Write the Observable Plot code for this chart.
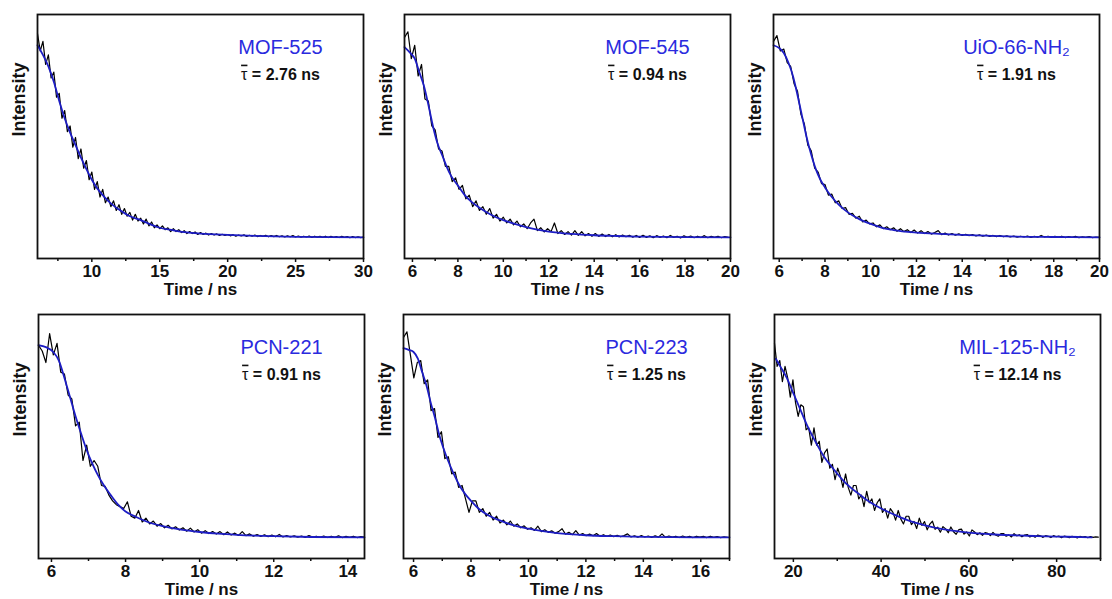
<!DOCTYPE html>
<html><head><meta charset="utf-8">
<script src="https://cdn.jsdelivr.net/npm/d3@7"></script>
<script src="https://cdn.jsdelivr.net/npm/@observablehq/plot@0.6"></script>
<style>
body{margin:0;background:#fff}
#fig{position:relative;width:1112px;height:599px;overflow:hidden;background:#fff}
.p{position:absolute}
svg{overflow:visible}
</style>
</head><body><div id="fig"></div>
<script>
// ---------- titles / lifetimes ----------
const titles = ["MOF-525", "MOF-545", "UiO-66-NH\u2082", "PCN-221", "PCN-223", "MIL-125-NH\u2082"];
const tauValues = ["2.76", "0.94", "1.91", "0.91", "1.25", "12.14"];

// ---------- x ticks ----------
const major1 = [10, 15, 20, 25, 30];           const minor1 = [7.5, 12.5, 17.5, 22.5, 27.5];
const major2 = [6, 8, 10, 12, 14, 16, 18, 20];  const minor2 = [7, 9, 11, 13, 15, 17, 19];
const major3 = [6, 8, 10, 12, 14, 16, 18, 20];  const minor3 = [7, 9, 11, 13, 15, 17, 19];
const major4 = [6, 8, 10, 12, 14];              const minor4 = [7, 9, 11, 13];
const major5 = [6, 8, 10, 12, 14, 16];          const minor5 = [7, 9, 11, 13, 15, 17];
const major6 = [20, 40, 60, 80];                const minor6 = [30, 50, 70, 90];

// ---------- measured decays (time channel start, channel width, normalised counts) ----------
const raw1Start = 6.0, raw1Step = 0.2;
const raw1 = [1.06,0.97,1.02,0.90,0.95,0.83,0.86,0.73,0.75,0.62,
0.66,0.55,0.58,0.47,0.52,0.41,0.46,0.36,0.40,0.30,
0.34,0.25,0.29,0.21,0.25,0.18,0.21,0.16,0.19,0.14,
0.17,0.12,0.15,0.11,0.13,0.09,0.12,0.085,0.10,0.07,
0.095,0.06,0.08,0.05,0.065,0.045,0.06,0.04,0.05,0.03,
0.045,0.03,0.04,0.025,0.035,0.02,0.03,0.02,0.028,0.015,
0.025,0.015,0.022,0.012,0.02,0.012,0.018,0.01,0.016,0.01,
0.015,
0.008,0.014,0.006,0.012,0.007,0.013,0.005,0.011,0.006,0.012,
0.004,0.010,0.005,0.011,0.003,0.009,0.004,0.010,0.003,0.008,
0.002,0.008,0.003,0.009,0.002,0.007,0.001,0.006,0.002,0.007,
0.000,0.006,0.001,0.005,0.000,0.006,-0.001,0.005,0.000,0.004,
-0.001,0.005,0.000,0.004,-0.002,0.004,-0.001,0.003,-0.001,0.002];

const raw2Start = 5.65, raw2Step = 0.15;
const raw2 = [1.04,1.07,0.93,1.00,0.84,0.90,0.72,0.71,0.58,0.56,
0.46,0.45,0.37,0.37,0.29,0.31,0.25,0.27,0.20,0.22,
0.16,0.19,0.14,0.16,0.12,0.15,0.10,0.12,0.085,0.105,
0.075,0.095,0.065,0.085,0.055,0.07,0.045,0.075,0.095,0.035,
0.05,0.028,0.045,0.03,0.075,0.02,0.035,0.015,0.03,0.012,
0.035,0.01,0.03,0.008,0.02,0.006,0.02,0.005,0.017,0.004,
0.015,0.003,0.014,0.002,0.012,0.003,0.011,0.001,0.01,0.0,
0.011,
0.0,0.008,-0.002,0.009,0.0,0.007,-0.002,0.01,0.0,0.006,
-0.003,0.008,0.0,0.007,-0.002,0.006,-0.001,0.009,-0.002,0.005,
0.0,0.006,-0.002,0.004,0.0];

const raw3Start = 5.75, raw3Step = 0.15;
const raw3 = [1.02,1.05,0.97,0.98,0.91,0.89,0.80,0.76,0.64,0.59,
0.48,0.45,0.36,0.34,0.28,0.275,0.22,0.225,0.18,0.19,
0.15,0.155,0.12,0.125,0.10,0.11,0.08,0.09,0.07,0.075,
0.055,0.065,0.045,0.055,0.04,0.05,0.032,0.045,0.03,0.04,
0.025,0.038,0.022,0.035,0.02,0.03,0.017,0.025,0.035,0.014,
0.022,0.012,0.02,0.011,0.018,0.01,0.016,0.009,0.015,0.007,
0.013,0.006,0.012,0.005,0.01,0.004,0.01,0.003,0.008,0.002,
0.007,0.001,0.006,0.002,0.007,0.0,0.005,0.001,0.01,0.002,
0.006,0.0,0.005,0.001,0.006,-0.001,0.004,0.0,0.005,-0.001,
0.003,0.0,0.004,-0.001,0.002,0.0];

const raw4Start = 5.65, raw4Step = 0.1;
const raw4 = [1.0,0.97,0.91,1.06,0.95,1.01,0.86,0.85,0.74,0.72,
0.58,0.60,0.40,0.48,0.37,0.40,0.37,0.27,0.265,0.22,
0.19,0.17,0.16,0.15,0.185,0.11,0.10,0.14,0.08,0.10,
0.07,0.085,0.058,0.072,0.05,0.063,0.044,0.055,0.038,0.05,
0.032,0.048,0.028,0.04,0.022,0.035,0.02,0.03,0.017,0.03,
0.014,0.028,0.012,0.022,0.01,0.03,0.009,0.018,0.006,0.015,
0.005,0.013,0.004,0.012,0.003,0.015,0.002,0.009,
0.002,0.008,0.001,0.007,0.0,0.009,0.001,0.006,0.0,0.007,
-0.001,0.006,0.0,0.008,-0.001,0.005,0.0,0.006,-0.001,0.004,0.001];

const raw5Start = 5.65, raw5Step = 0.12;
const raw5 = [1.04,1.07,0.95,0.83,0.91,0.92,0.80,0.82,0.66,0.67,
0.52,0.55,0.41,0.42,0.33,0.34,0.26,0.27,0.20,0.13,
0.19,0.19,0.13,0.15,0.11,0.13,0.09,0.11,0.075,0.09,
0.065,0.085,0.058,0.07,0.05,0.06,0.042,0.05,0.036,0.058,
0.03,0.04,0.026,0.034,0.022,0.03,0.045,0.017,0.026,0.014,
0.035,0.012,0.02,0.009,0.017,0.008,0.02,0.006,0.014,0.005,
0.012,0.004,
0.011,0.003,0.009,0.018,0.002,0.008,0.001,0.009,0.002,0.007,
0.0,0.008,0.001,0.018,0.0,0.007,0.001,0.006,-0.001,0.007,
0.0,0.005,-0.001,0.006,0.001,0.005,-0.001,0.006,0.0,0.004,
-0.001,0.003,0.0];

const raw6Start = 15.7, raw6Step = 0.6;
const raw6 = [1.01,0.89,0.92,0.81,0.89,0.83,0.73,0.82,0.70,0.63,
0.69,0.68,0.56,0.57,0.48,0.57,0.48,0.50,0.39,0.44,
0.46,0.36,0.38,0.30,0.36,0.32,0.26,0.33,0.26,0.22,
0.27,0.27,0.20,0.22,0.16,0.24,0.18,0.20,0.14,0.18,
0.20,0.13,0.15,0.10,0.15,0.13,0.09,0.14,0.095,0.07,
0.11,0.11,0.066,0.083,0.046,0.10,0.062,0.082,0.039,0.069,
0.084,0.042,0.053,0.027,0.056,0.044,0.024,0.054,0.029,0.016,
0.04,0.043,0.017,0.028,0.007,0.039,
0.028,0.014,0.024,0.011,0.025,0.021,0.009,0.026,0.012,0.006,
0.019,0.02,0.006,0.013,0.002,0.019,0.008,0.014,0.003,0.012,
0.015,0.002,0.009,0.001,0.012,0.008,0.0,0.009,0.006,-0.001,
0.009,0.003,0.007,-0.002,0.006,0.004,-0.002,0.005,0.003,-0.003,
0.005,0.001,0.004,-0.002,0.004,0.0,0.003,0.001];

// ---------- fitted curves (time, normalised intensity) ----------
const fit1T = [6.0,6.4,6.8,7.2,7.6,8.0,8.4,8.8,9.2,9.6,10.0,10.4,10.8,11.2,11.6,12.0,12.8,13.6,14.4,15.0,16,17,18,20,22,25,30];
const fit1V = [1.00,0.95,0.89,0.81,0.71,0.62,0.545,0.48,0.415,0.355,0.30,0.255,0.22,0.19,0.165,0.145,0.11,0.09,0.065,0.05,0.037,0.026,0.02,0.013,0.008,0.003,0.0];
const fit2T = [5.65,5.9,6.1,6.3,6.5,6.7,6.9,7.1,7.3,7.5,7.7,8.0,8.3,8.6,9.0,9.5,10.0,10.5,11.0,11.5,12.0,13,14,15,16,18,20];
const fit2V = [0.99,0.96,0.93,0.86,0.79,0.69,0.58,0.49,0.43,0.37,0.32,0.27,0.22,0.185,0.15,0.115,0.09,0.07,0.053,0.04,0.03,0.018,0.011,0.007,0.004,0.001,0.0];
const fit3T = [5.75,6.0,6.2,6.4,6.6,6.8,7.0,7.2,7.4,7.6,7.8,8.0,8.3,8.6,9.0,9.5,10.0,10.5,11,12,13,14,15,16,18,20];
const fit3V = [1.0,0.985,0.96,0.91,0.84,0.74,0.63,0.52,0.43,0.355,0.30,0.26,0.21,0.17,0.13,0.095,0.07,0.05,0.038,0.025,0.018,0.013,0.009,0.005,0.002,0.0];
const fit4T = [5.65,5.85,6.05,6.2,6.35,6.5,6.65,6.8,6.95,7.1,7.25,7.4,7.6,7.8,8.0,8.3,8.6,9.0,9.5,10.0,10.5,11.0,12.0,13.0,14.45];
const fit4V = [1.0,0.99,0.965,0.92,0.83,0.73,0.63,0.54,0.455,0.385,0.325,0.275,0.22,0.17,0.135,0.105,0.08,0.058,0.04,0.028,0.019,0.013,0.006,0.002,0.0];
const fit5T = [5.65,5.85,6.0,6.15,6.3,6.45,6.6,6.75,6.9,7.05,7.2,7.4,7.6,7.8,8.0,8.3,8.6,9.0,9.5,10.0,10.5,11.0,12.0,13.0,14.0,15.0,17.0];
const fit5V = [0.985,0.975,0.965,0.93,0.86,0.79,0.70,0.62,0.53,0.46,0.40,0.33,0.27,0.225,0.19,0.145,0.115,0.088,0.062,0.045,0.032,0.022,0.011,0.006,0.003,0.001,0.0];
const fit6T = [16.0,17,18.5,20,21.5,23,25,27,29,31,33,35,37,40,43,46,50,54,58,62,66,70,75,80,85,88];
const fit6V = [0.93,0.89,0.83,0.75,0.67,0.59,0.50,0.42,0.36,0.305,0.26,0.225,0.19,0.15,0.118,0.09,0.063,0.043,0.03,0.021,0.015,0.011,0.007,0.004,0.002,0.0];

// ---------- x ranges ----------
const xDomains = [[6, 30], [5.65, 20], [5.75, 20], [5.65, 14.45], [5.65, 17], [15.7, 90]];

// ---------- layout ----------
const layout = [
  {left: 0,   top: 0,   width: 370, height: 300, ml: 37, mr: 7,  mt: 14, mb: 42},
  {left: 370, top: 0,   width: 370, height: 300, ml: 34, mr: 10, mt: 14, mb: 42},
  {left: 740, top: 0,   width: 372, height: 300, ml: 33, mr: 13, mt: 14, mb: 42},
  {left: 0,   top: 300, width: 370, height: 299, ml: 38, mr: 6,  mt: 14, mb: 41},
  {left: 370, top: 300, width: 370, height: 299, ml: 33, mr: 11, mt: 14, mb: 41},
  {left: 740, top: 300, width: 372, height: 299, ml: 34, mr: 12, mt: 14, mb: 41}
];

const raws = [[raw1Start, raw1Step, raw1], [raw2Start, raw2Step, raw2], [raw3Start, raw3Step, raw3],
              [raw4Start, raw4Step, raw4], [raw5Start, raw5Step, raw5], [raw6Start, raw6Step, raw6]];
const fits = [[fit1T, fit1V], [fit2T, fit2V], [fit3T, fit3V], [fit4T, fit4V], [fit5T, fit5V], [fit6T, fit6V]];
const majors = [major1, major2, major3, major4, major5, major6];
const minors = [minor1, minor2, minor3, minor4, minor5, minor6];

const fitColor = "#1d1dc4";
const titleColor = "#2a2ade";
const fig = document.getElementById("fig");
const SVGNS = "http://www.w3.org/2000/svg";

for (let k = 0; k < 6; k++) {
  const L = layout[k];
  const [t0, dt, vals] = raws[k];
  const rawData = vals.map((v, i) => ({t: t0 + i * dt, v}));
  const fitData = fits[k][0].map((t, i) => ({t, v: fits[k][1][i]}));
  const tauLabel = "\u03C4 = " + tauValues[k] + " ns";
  const chart = Plot.plot({
    width: L.width, height: L.height,
    marginLeft: L.ml, marginRight: L.mr, marginTop: L.mt, marginBottom: L.mb,
    x: {domain: xDomains[k]},
    y: {domain: [-0.11, 1.16], axis: null},
    style: {fontFamily: "'Liberation Sans', Arial, sans-serif", fontSize: "17px", fontWeight: "bold", overflow: "visible", background: "transparent", color: "#111"},
    marks: [
      Plot.line(rawData, {x: "t", y: "v", stroke: "#000", strokeWidth: 1.2}),
      Plot.line(fitData, {x: "t", y: "v", stroke: fitColor, strokeWidth: 1.8, curve: "monotone-x"}),
      Plot.frame({stroke: "#111", strokeWidth: 1.8}),
      Plot.axisX({ticks: majors[k], tickSize: 4, tickPadding: 2, tickFormat: d => String(d), label: null, strokeWidth: 1.5, fontSize: 17, fontWeight: "bold"}),
      Plot.axisX({ticks: minors[k], tickSize: 3, tickFormat: () => "", label: null, strokeWidth: 1.5}),
      Plot.text([titles[k]], {frameAnchor: "top-left", dx: 243, dy: 33, text: d => d, textAnchor: "middle", lineAnchor: "middle", fill: titleColor, fontSize: 20, fontWeight: "normal"}),
      Plot.text([tauLabel], {frameAnchor: "top-left", dx: 243, dy: 60, text: d => d, textAnchor: "middle", lineAnchor: "middle", fill: "#111", fontSize: 16, fontWeight: "bold"}),
      Plot.text(["Intensity"], {frameAnchor: "left", dx: -18, rotate: -90, text: d => d, lineAnchor: "middle", fill: "#111", fontSize: 18, fontWeight: "bold"}),
      Plot.text(["Time / ns"], {frameAnchor: "bottom", dy: 24.6, text: d => d, lineAnchor: "top", fill: "#111", fontSize: 17, fontWeight: "bold"})
    ]
  });
  // put an overbar on the tau symbol (mean lifetime)
  chart.querySelectorAll("text").forEach(el => {
    if (el.textContent === tauLabel) {
      el.textContent = "";
      const a = document.createElementNS(SVGNS, "tspan");
      a.textContent = "\u03C4";
      a.setAttribute("style", "text-decoration: overline; font-weight: normal;");
      const b = document.createElementNS(SVGNS, "tspan");
      b.textContent = " = " + tauValues[k] + " ns";
      el.appendChild(a);
      el.appendChild(b);
    }
  });
  const wrap = document.createElement("div");
  wrap.className = "p";
  wrap.style.left = L.left + "px";
  wrap.style.top = L.top + "px";
  wrap.appendChild(chart);
  fig.appendChild(wrap);
}
</script>
</body></html>
